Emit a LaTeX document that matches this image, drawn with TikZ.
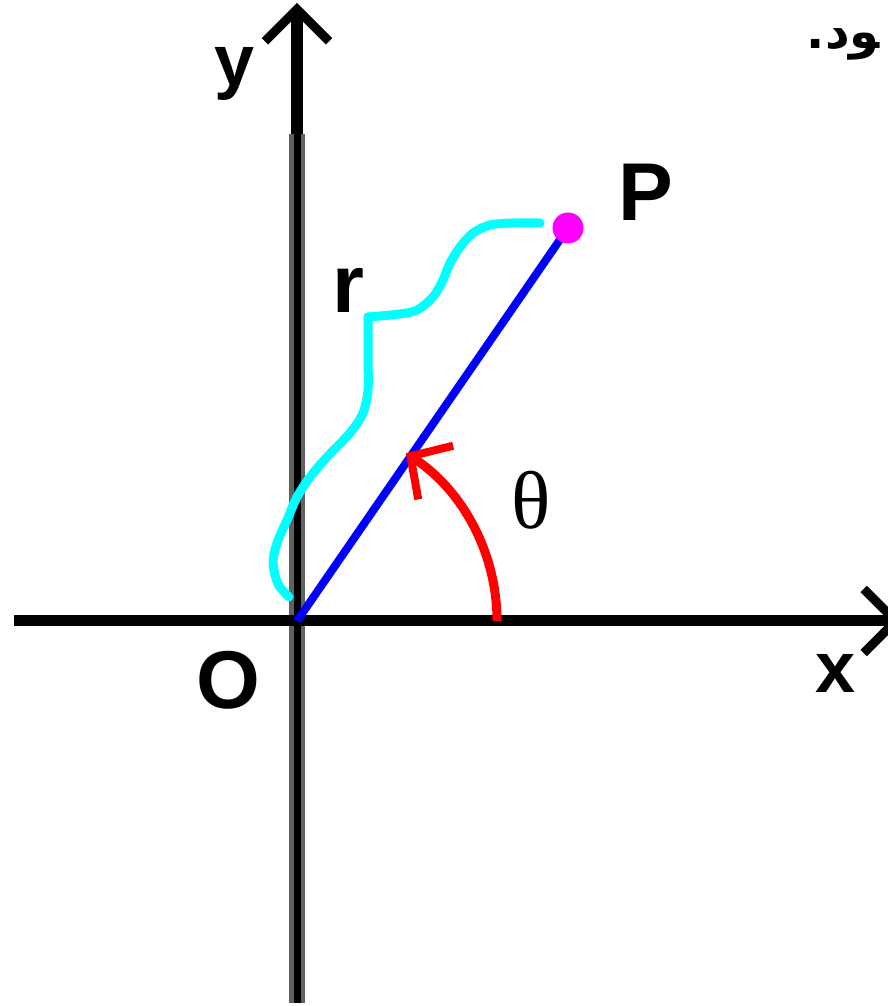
\documentclass[tikz,border=0pt]{standalone}
\usepackage{fontspec}
\setmainfont{Liberation Sans}
\newfontfamily\thetafont{Liberation Serif}
\newfontfamily\arabicfont[Script=Arabic]{DejaVu Sans}
\TeXXeTstate=1
\usetikzlibrary{arrows.meta}
\definecolor{rcyan}{RGB}{0,255,255}
\definecolor{pmagenta}{RGB}{255,0,255}
\definecolor{rblue}{RGB}{0,0,255}
\definecolor{tred}{RGB}{255,0,0}

\begin{document}
\begin{tikzpicture}[
    x=1pt,
    y=1pt,
    axistip/.style={-{Straight Barb[length=32pt,width=64pt,line width=9pt]}},
    lbl/.style={inner sep=0pt, font=\bfseries\fontsize{82}{82}\selectfont},
    smalllbl/.style={inner sep=0pt, font=\bfseries\fontsize{72}{72}\selectfont},
    brace/.style={rcyan, line width=9pt, line cap=round, line join=round}
]
\useasboundingbox (0,0) rectangle (888,1006);

% Points
\coordinate (O) at (297,385);
\coordinate (P) at (568,778);
\coordinate (ybot) at (297,3);
\coordinate (ymid) at (297,872);
\coordinate (ytop) at (297,1003);
\coordinate (xleft) at (14,385);
\coordinate (xright) at (902,385);

% Axes
\draw[black!62, line width=16pt] (ybot) -- (ymid);
\draw[line width=7pt] (ybot) -- (ymid);
\draw[line width=12pt, axistip] (ymid) -- (ytop);
\draw[line width=11pt, axistip] (xleft) -- (xright);

% Radius and point
\draw[rblue, line width=8pt] (O) -- (P);
\node[circle, fill=pmagenta, minimum size=31pt, inner sep=0pt] (dot) at (P) {};

% Brace for r
\draw[brace] plot[smooth, tension=0.5] coordinates {
    (289,409) (278,422) (273,443) (277,463) (287,486) (297,509)
    (310,529) (327,549) (350,573) (363,593) (368,616) (368,650) (368,689)};
\draw[brace] plot[smooth, tension=0.5] coordinates {
    (368,689) (400,692) (417,696) (433,709) (443,726) (450,743)
    (460,759) (473,773) (490,781) (513,783) (540,783)};

% Angle
\draw[tred, line width=9pt, -{Straight Barb[length=30pt,width=64pt,line width=8pt]}]
    (O) ++(200,0) arc[start angle=0, end angle=57, radius=200];

% Labels
\node[smalllbl] (ylbl) at (235,932) {y};
\node[smalllbl] (xlbl) at (836,333) {x};
\node[lbl] (olbl) at (228,326) {O};
\node[lbl] (plbl) at (646,814) {P};
\node[lbl] (rlbl) at (348,716) {r};
\node[inner sep=0pt, font=\thetafont\fontsize{82}{82}\selectfont] (thlbl) at (531,506) {θ};
\node[inner sep=0pt, anchor=east, font=\arabicfont\bfseries\fontsize{48}{48}\selectfont] (note) at (880,962) {\beginR^^^^200dود.\endR};

\end{tikzpicture}
\end{document}
